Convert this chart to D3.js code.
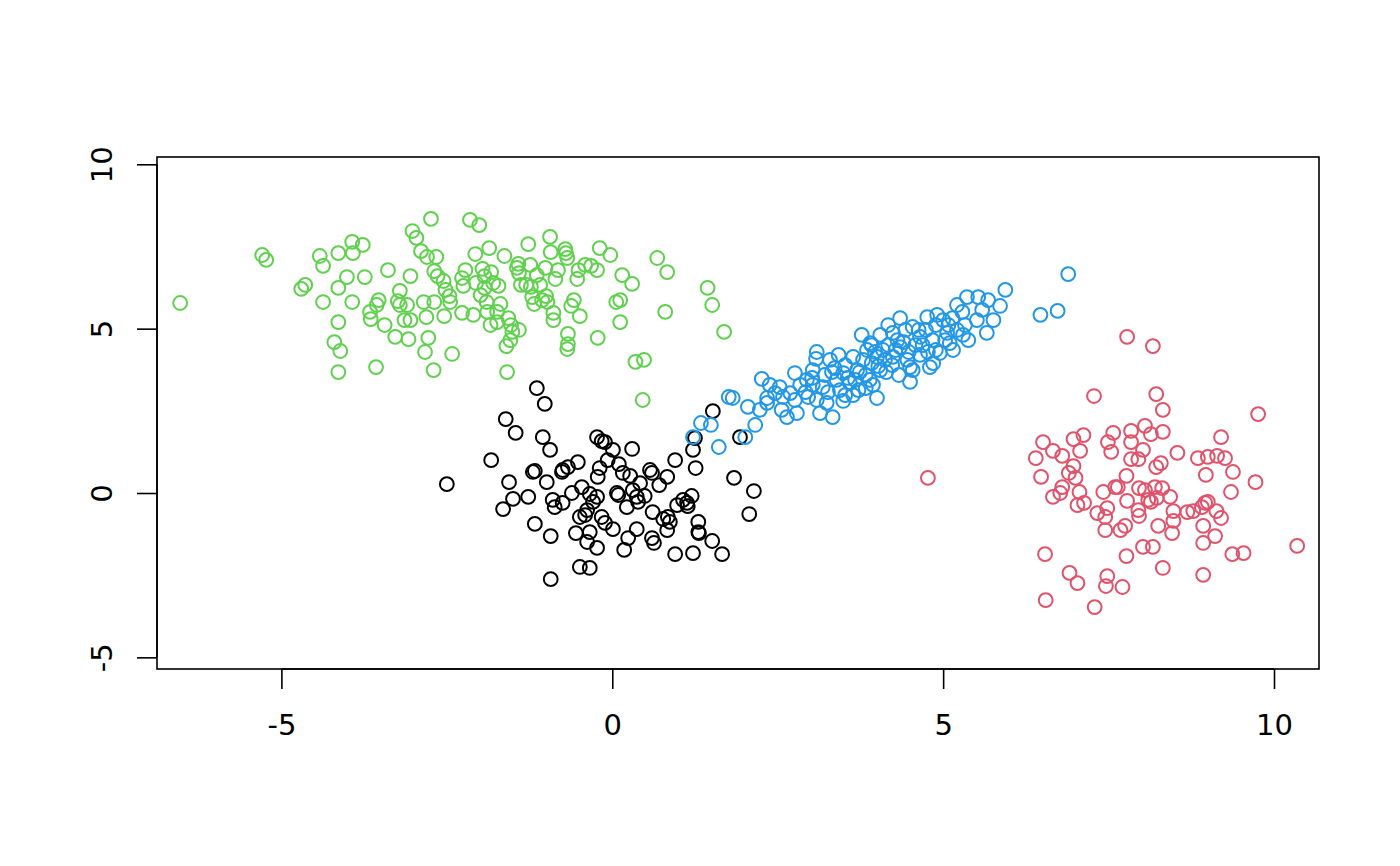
<!DOCTYPE html>
<html>
<head>
<meta charset="utf-8">
<script src="https://cdn.jsdelivr.net/npm/d3@7"></script>
<style>
  body { margin: 0; background: #fff; }
  text { font-family: "DejaVu Sans", sans-serif; }
</style>
</head>
<body>
<div id="root"></div>
<script>
const width = 1400;
const height = 866;

// cluster 1 (black)
const blackPts = [
  [-1.14, 3.19], [-1.02, 2.71], [-1.61, 2.25], [-1.46, 1.83], [-1.05, 1.70], [-0.94, 1.31],
  [-1.83, 1.00], [-2.50, 0.27], [-1.56, 0.33], [-1.17, 0.67], [-1.20, 0.64], [-0.99, 0.33],
  [-1.50, -0.18], [-1.27, -0.12], [-1.65, -0.49], [-1.17, -0.94], [-0.93, -1.31], [-0.93, -2.62],
  [-0.49, -2.25], [-0.34, -2.28], [-0.23, 1.70], [-0.16, 1.58], [-0.11, 1.55], [0.01, 1.31],
  [0.30, 1.34], [-0.07, 1.00], [0.10, 0.88], [-0.52, 0.94], [-0.67, 0.79], [-0.75, 0.70],
  [-0.76, 0.64], [-0.19, 0.76], [-0.22, 0.49], [0.16, 0.61], [0.27, 0.52], [0.57, 0.70],
  [0.60, 0.61], [0.83, 0.49], [0.95, 1.00], [1.26, 0.76], [1.52, 2.49], [1.25, 1.67],
  [1.22, 1.31], [1.93, 1.70], [1.84, 0.46], [2.14, 0.06], [2.07, -0.64], [0.71, 0.24],
  [0.42, 0.30], [0.31, 0.09], [0.07, 0.00], [0.09, -0.06], [0.37, -0.12], [0.49, -0.09],
  [0.39, -0.27], [0.22, -0.43], [-0.46, 0.18], [-0.61, 0.00], [-0.90, -0.21], [-0.75, -0.30],
  [-0.87, -0.43], [-0.34, -0.03], [-0.29, -0.27], [-0.23, -0.12], [-0.38, -0.52], [-0.49, -0.73],
  [-0.41, -0.67], [-0.16, -0.73], [-0.11, -0.91], [0.01, -1.10], [-0.55, -1.22], [-0.34, -1.19],
  [-0.38, -1.49], [-0.23, -1.67], [0.37, -1.10], [0.24, -1.37], [0.18, -1.73], [0.60, -1.37],
  [0.63, -1.52], [0.61, -0.58], [0.77, -0.79], [0.84, -0.73], [0.87, -0.88], [0.83, -1.13],
  [0.98, -0.37], [1.07, -0.21], [1.13, -0.30], [1.14, -0.40], [1.20, -0.09], [1.30, -0.88],
  [1.30, -1.19], [1.31, -1.22], [1.51, -1.46], [1.66, -1.86], [1.22, -1.83], [0.95, -1.86]
];

// cluster 2 (red)
const redPts = [
  [7.78, 4.75], [8.17, 4.47], [7.28, 2.95], [8.22, 3.01], [8.32, 2.53], [9.76, 2.40],
  [6.51, 1.55], [6.66, 1.28], [6.80, 1.13], [6.97, 1.64], [7.12, 1.76], [7.07, 1.28],
  [7.49, 1.55], [7.57, 1.83], [7.54, 1.25], [7.84, 1.89], [7.84, 1.55], [8.05, 2.04],
  [8.14, 1.79], [8.32, 1.86], [8.02, 1.31], [8.54, 1.22], [9.20, 1.70], [8.85, 1.06],
  [9.00, 1.10], [9.14, 1.13], [9.26, 1.06], [6.40, 1.06], [7.84, 1.03], [7.95, 1.03],
  [8.22, 0.79], [8.29, 0.91], [6.48, 0.49], [6.90, 0.61], [6.97, 0.82], [7.00, 0.46],
  [6.80, 0.18], [6.66, -0.12], [6.77, 0.00], [7.06, 0.03], [7.03, -0.37], [7.13, -0.30],
  [7.33, -0.61], [7.45, -0.73], [7.48, -0.46], [7.45, -1.13], [7.42, 0.03], [7.60, 0.18],
  [7.64, 0.18], [7.77, 0.52], [7.78, -0.24], [7.68, -1.13], [7.75, -1.00], [7.95, -0.52],
  [7.96, -0.70], [7.96, 0.15], [8.05, 0.09], [8.10, -0.21], [8.14, -0.27], [8.20, 0.18],
  [8.31, 0.15], [8.23, -0.15], [8.43, -0.12], [8.48, -0.55], [8.48, -0.85], [8.46, -1.22],
  [8.25, -1.00], [8.69, -0.58], [8.78, -0.55], [8.91, -0.43], [8.96, -0.30], [9.00, -0.27],
  [9.13, -0.55], [9.20, -0.76], [8.93, -1.00], [9.11, -1.31], [8.93, -1.52], [8.97, 0.55],
  [9.38, 0.64], [9.35, 0.03], [9.72, 0.33], [10.35, -1.61], [9.37, -1.86], [9.54, -1.83],
  [8.02, -1.64], [8.17, -1.64], [7.77, -1.92], [8.32, -2.28], [8.93, -2.49], [6.54, -1.86],
  [6.91, -2.43], [7.03, -2.74], [7.48, -2.53], [7.46, -2.83], [7.71, -2.86], [6.55, -3.26],
  [7.29, -3.47], [4.77, 0.46]
];

// cluster 3 (green)
const greenPts = [
  [-6.53, 5.78], [-5.29, 7.24], [-5.23, 7.09], [-4.70, 6.21], [-4.64, 6.33], [-4.42, 7.21],
  [-4.37, 6.91], [-4.37, 5.81], [-4.20, 4.59], [-4.11, 4.32], [-4.14, 3.68], [-4.14, 5.20],
  [-4.14, 6.24], [-4.14, 7.30], [-3.93, 7.64], [-3.92, 7.30], [-3.77, 7.55], [-4.01, 6.57],
  [-3.93, 5.81], [-3.74, 6.57], [-3.66, 5.51], [-3.56, 5.72], [-3.53, 5.87], [-3.65, 5.29],
  [-3.44, 5.11], [-3.57, 3.83], [-3.39, 6.78], [-3.28, 4.75], [-3.24, 5.84], [-3.21, 6.15],
  [-3.21, 5.72], [-3.14, 5.26], [-3.08, 4.68], [-3.10, 5.72], [-3.05, 6.60], [-3.02, 7.97],
  [-2.96, 7.76], [-3.05, 5.26], [-2.89, 7.36], [-2.85, 5.81], [-2.80, 7.18], [-2.83, 4.29],
  [-2.78, 4.72], [-2.81, 5.35], [-2.74, 8.34], [-2.69, 6.75], [-2.66, 7.18], [-2.64, 6.60],
  [-2.69, 5.81], [-2.70, 3.74], [-2.54, 5.38], [-2.52, 6.18], [-2.46, 5.99], [-2.42, 4.23],
  [-2.45, 5.81], [-2.27, 5.48], [-2.25, 6.30], [-2.22, 6.78], [-2.27, 6.54], [-2.55, 6.45],
  [-2.15, 8.31], [-2.01, 8.15], [-2.07, 7.27], [-2.10, 5.42], [-2.06, 6.39], [-1.99, 6.02],
  [-1.96, 6.82], [-1.93, 6.60], [-1.93, 6.24], [-1.90, 5.81], [-1.89, 5.51], [-1.86, 7.45],
  [-1.84, 5.11], [-1.83, 6.72], [-1.80, 6.39], [-1.74, 5.51], [-1.74, 5.20], [-1.72, 6.30],
  [-1.69, 5.75], [-1.63, 7.21], [-1.60, 4.47], [-1.59, 3.68], [-1.57, 5.32], [-1.54, 4.65],
  [-1.53, 5.11], [-1.51, 4.90], [-1.44, 6.85], [-1.42, 6.97], [-1.41, 6.69], [-1.41, 4.96],
  [-1.38, 6.33], [-1.30, 6.33], [-1.27, 7.57], [-1.24, 6.94], [-1.23, 6.27], [-1.21, 5.96],
  [-1.18, 5.75], [-1.14, 6.63], [-1.09, 6.33], [-1.06, 5.87], [-1.01, 6.85], [-1.00, 5.99],
  [-0.98, 5.81], [-0.94, 7.79], [-0.93, 7.33], [-0.89, 5.26], [-0.89, 5.48], [-0.86, 6.51],
  [-0.82, 6.78], [-0.71, 7.42], [-0.70, 7.30], [-0.68, 7.15], [-0.67, 4.53], [-0.68, 4.38],
  [-0.67, 4.84], [-0.62, 5.69], [-0.58, 5.87], [-0.53, 6.51], [-0.51, 6.78], [-0.49, 5.38],
  [-0.41, 6.94], [-0.32, 6.91], [-0.23, 6.78], [-0.22, 4.72], [-0.19, 7.45], [-0.03, 7.24],
  [0.06, 5.81], [0.12, 5.87], [0.12, 5.20], [0.15, 6.63], [0.30, 6.36], [0.35, 3.99],
  [0.48, 4.05], [0.46, 2.83], [0.68, 7.15], [0.83, 6.72], [0.80, 5.51], [1.44, 6.24],
  [1.51, 5.72], [1.69, 4.90]
];

// cluster 4 (blue)
const bluePts = [
  [2.26, 3.47], [1.76, 2.92], [1.82, 2.89], [2.05, 2.62], [2.34, 2.89], [2.34, 2.74],
  [2.16, 2.07], [2.01, 1.70], [1.61, 1.40], [1.34, 2.13], [1.49, 2.07], [1.22, 1.70],
  [2.53, 3.22], [2.58, 2.92], [2.56, 2.53], [2.64, 2.31], [2.79, 2.43], [2.76, 3.65],
  [2.94, 3.44], [3.03, 3.29], [2.96, 2.92], [3.09, 2.83], [3.09, 4.29], [3.08, 4.08],
  [3.03, 3.74], [3.29, 4.05], [3.32, 3.68], [3.14, 2.43], [3.24, 2.74], [3.33, 2.31],
  [3.49, 2.80], [3.18, 3.22], [3.39, 3.44], [3.49, 3.65], [3.59, 3.35], [3.70, 3.74],
  [3.64, 4.14], [3.77, 4.81], [3.85, 4.35], [3.92, 3.95], [4.00, 2.89], [3.94, 3.29],
  [4.05, 3.74], [4.09, 4.35], [4.17, 5.11], [4.24, 4.87], [4.35, 5.32], [4.24, 4.14],
  [4.35, 4.44], [4.46, 4.05], [4.50, 3.83], [4.50, 3.38], [4.54, 3.74], [4.54, 5.05],
  [4.65, 4.75], [4.77, 4.29], [4.85, 3.95], [4.80, 3.83], [4.76, 5.35], [4.91, 5.42],
  [5.00, 5.26], [5.06, 4.87], [5.10, 4.56], [4.95, 4.26], [5.15, 4.35], [5.21, 4.96],
  [5.30, 4.81], [5.38, 4.65], [5.21, 5.72], [5.36, 5.96], [5.53, 5.96], [5.68, 5.87],
  [5.86, 5.69], [5.94, 6.18], [5.51, 5.26], [5.59, 5.57], [5.76, 5.26], [5.66, 4.87],
  [3.90, 4.56], [4.00, 4.14], [6.47, 5.42], [6.73, 5.54], [6.89, 6.66],
  [2.84, 3.29], [2.92, 3.07], [3.02, 3.50], [3.21, 3.59], [3.26, 3.07], [3.36, 3.80],
  [3.44, 3.13], [3.52, 3.89], [3.56, 3.50], [3.67, 3.44], [3.74, 3.68], [3.79, 4.05],
  [3.83, 3.59], [3.89, 3.44], [3.97, 4.29], [4.02, 3.86], [4.12, 4.05], [4.17, 4.50],
  [4.23, 3.89], [4.28, 4.35], [4.31, 4.65], [4.40, 4.59], [4.43, 4.96], [4.48, 4.29],
  [4.58, 4.50], [4.63, 4.96], [4.69, 4.50], [4.74, 4.96], [4.84, 4.65], [4.89, 5.11],
  [5.03, 4.65], [5.08, 5.11], [5.14, 5.32], [5.29, 5.51], [5.33, 5.11], [2.38, 3.29],
  [2.46, 3.04], [2.69, 3.04], [2.76, 2.83], [2.23, 2.53], [3.64, 2.98], [3.83, 3.19],
  [3.72, 3.13], [4.14, 3.68], [4.33, 3.59], [4.65, 4.20], [4.89, 4.35], [4.05, 4.81],
  [3.92, 4.50], [3.42, 4.20], [3.52, 2.98]
];

const clusters = [blackPts, redPts, greenPts, bluePts];
const colors = ["#000000", "#DF536B", "#61D04F", "#2297E6"];
const xTicks = [-5, 0, 5, 10];
const yTicks = [-5, 0, 5, 10];

const box = { left: 157, right: 1319, top: 157, bottom: 669 };

let xScale = d3.scaleLinear().domain([-6.88, 10.68]).range([box.left, box.right]);
let yScale = d3.scaleLinear().domain([-5.354, 10.222]).range([box.bottom, box.top]);

let svg = d3
  .select("#root")
  .append("svg")
  .attr("width", width)
  .attr("height", height)
  .style("background", "#fff");

// points
clusters.forEach(function (pts, k) {
  svg
    .append("g")
    .selectAll("circle")
    .data(pts)
    .enter()
    .append("circle")
    .attr("cx", (d) => xScale(d[0]))
    .attr("cy", (d) => yScale(d[1]))
    .attr("r", 6.9)
    .style("fill", "none")
    .style("stroke", colors[k])
    .style("stroke-width", 2);
});

// x axis
let xAxis = d3.axisBottom(xScale).tickValues(xTicks).tickSize(20).tickPadding(25)
  .tickFormat((d) => d);
let gx = svg
  .append("g")
  .attr("transform", "translate(0," + box.bottom + ")")
  .call(xAxis);
gx.select(".domain").attr("d", "M" + xScale(-5) + ",0H" + xScale(10));
gx.selectAll("path, line").style("stroke", "#000").style("stroke-width", 1.6);
gx.selectAll("text").style("font-size", "29px").style("fill", "#000");

// y axis
let yAxis = d3.axisLeft(yScale).tickValues(yTicks).tickSize(20).tickPadding(0)
  .tickFormat((d) => d);
let gy = svg
  .append("g")
  .attr("transform", "translate(" + box.left + ",0)")
  .call(yAxis);
gy.select(".domain").attr("d", "M0," + yScale(-5) + "V" + yScale(10));
gy.selectAll("path, line").style("stroke", "#000").style("stroke-width", 1.6);
gy.selectAll("text")
  .attr("x", null)
  .attr("dy", null)
  .attr("text-anchor", "middle")
  .attr("transform", "translate(-45,0) rotate(-90)")
  .style("font-size", "29px")
  .style("fill", "#000");

// box
svg
  .append("rect")
  .attr("x", box.left)
  .attr("y", box.top)
  .attr("width", box.right - box.left)
  .attr("height", box.bottom - box.top)
  .style("fill", "none")
  .style("stroke", "#000")
  .style("stroke-width", 1.6);
</script>
</body>
</html>
